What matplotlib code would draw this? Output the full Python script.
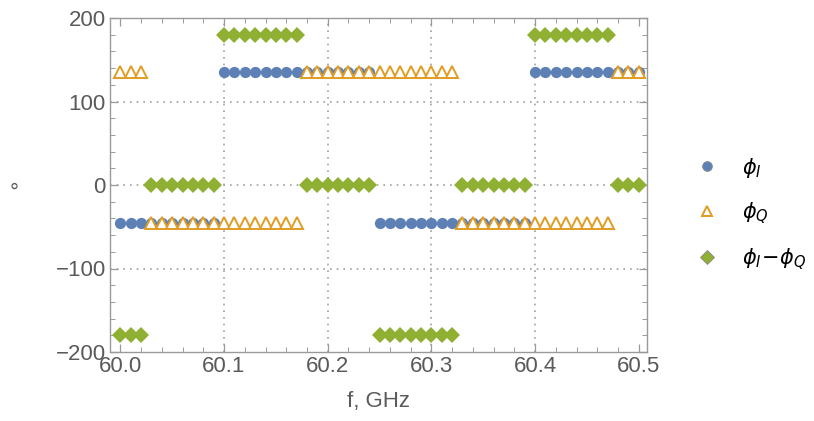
import numpy as np
import matplotlib.pyplot as plt
from matplotlib.ticker import MultipleLocator

plt.rcParams['font.family'] = ['Liberation Sans', 'DejaVu Sans']
plt.rcParams['mathtext.fontset'] = 'dejavusans'

# Частоти, ГГц (крок 0.01)
freq = [60.00, 60.01, 60.02, 60.03, 60.04, 60.05, 60.06, 60.07, 60.08, 60.09,
        60.10, 60.11, 60.12, 60.13, 60.14, 60.15, 60.16, 60.17, 60.18, 60.19,
        60.20, 60.21, 60.22, 60.23, 60.24, 60.25, 60.26, 60.27, 60.28, 60.29,
        60.30, 60.31, 60.32, 60.33, 60.34, 60.35, 60.36, 60.37, 60.38, 60.39,
        60.40, 60.41, 60.42, 60.43, 60.44, 60.45, 60.46, 60.47, 60.48, 60.49,
        60.50]

# Фази, градуси
phi_i = [-45] * 10 + [135] * 15 + [-45] * 15 + [135] * 11
phi_q = [135] * 3 + [-45] * 15 + [135] * 15 + [-45] * 15 + [135] * 3
phi_diff = ([-180] * 3 + [0] * 7 + [180] * 8 + [0] * 7 + [-180] * 8
            + [0] * 7 + [180] * 8 + [0] * 3)

labels = [r'$\phi_I$', r'$\phi_Q$', r'$\phi_I\!-\!\phi_Q$']

blue = '#5E81B5'
orange = '#E19C24'
green = '#8FB032'
text_c = '#5a5a5a'
frame_c = '#9a9a9a'

fig = plt.figure(figsize=(8.14, 4.21), dpi=100)
ax = fig.add_axes([110 / 814, (421 - 352) / 421, 537 / 814, 334 / 421])

ax.plot(freq, phi_i, 'o', color=blue, markersize=8.1, markeredgewidth=0,
        label=labels[0], zorder=3)
ax.plot(freq, phi_q, '^', color=orange, markerfacecolor='white', markersize=8.3,
        markeredgewidth=1.4, label=labels[1], zorder=4)
ax.plot(freq, phi_diff, 'D', color=green, markersize=7.8, markeredgewidth=0,
        label=labels[2], zorder=5)

ax.set_xlim(59.99, 60.508)
ax.set_ylim(-200, 200)

ax.xaxis.set_major_locator(MultipleLocator(0.1))
ax.xaxis.set_minor_locator(MultipleLocator(0.02))
ax.yaxis.set_major_locator(MultipleLocator(100))
ax.yaxis.set_minor_locator(MultipleLocator(20))
ax.xaxis.set_major_formatter(plt.FuncFormatter(lambda v, p: f'{v:.1f}'))
ax.yaxis.set_major_formatter(plt.FuncFormatter(
    lambda v, p: f'{int(round(v))}'.replace('-', '\u2212')))

ax.tick_params(which='both', direction='in', top=True, right=True,
               color=frame_c, labelcolor=text_c, labelsize=16)
ax.tick_params(which='major', length=6, width=0.9, pad=3)
ax.tick_params(which='minor', length=3.5, width=0.7)
for s in ax.spines.values():
    s.set_color(frame_c)
    s.set_linewidth(1.0)

# Сітка
for gx in [60.1, 60.2, 60.3, 60.4]:
    ax.axvline(gx, color='#a0a0a0', linestyle=(0, (1, 3)), linewidth=1.2, zorder=1)
for gy in [-100, 0, 100]:
    ax.axhline(gy, color='#a0a0a0', linestyle=(0, (1, 3)), linewidth=1.2, zorder=1)

ax.set_xlabel('f, GHz', color=text_c, fontsize=16, labelpad=10)
ax.set_ylabel('°', color=text_c, fontsize=16, rotation=0,
              va='center', ha='center')
ax.yaxis.set_label_coords(-0.178, 0.475)

leg = fig.legend(*ax.get_legend_handles_labels(), loc='center left',
                 bbox_to_anchor=(697 / 814, (421 - 214) / 421), frameon=False,
                 fontsize=15, handletextpad=1.15, labelspacing=1.0,
                 handlelength=1.0, borderpad=0, borderaxespad=0)
for t in leg.get_texts():
    t.set_color('black')
for h in leg.legend_handles:
    h.set_markersize(7)
for h in (leg.legend_handles[0], leg.legend_handles[2]):
    h.set_markeredgecolor('#888888')
    h.set_markeredgewidth(0.6)
leg.legend_handles[1].set_markersize(6.5)

fig.savefig('out.png', dpi=100)
